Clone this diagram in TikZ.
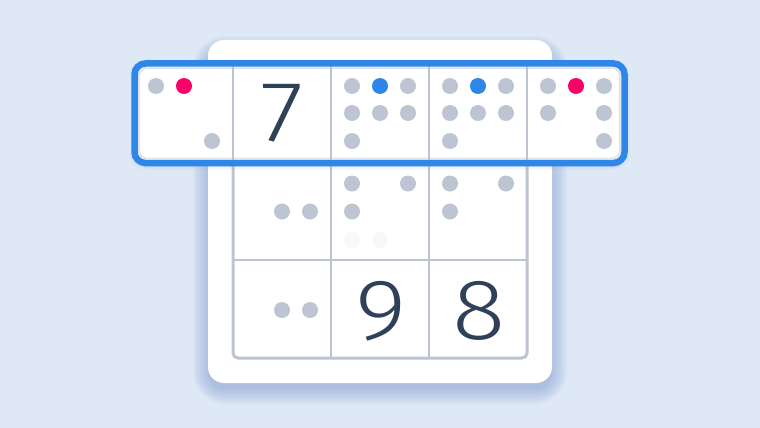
\documentclass[tikz,border=0pt]{standalone}
\usepackage{fontspec}
\usepackage{graphicx}
\newfontfamily\numfont{Fira Sans Light}
\definecolor{bg}{HTML}{DFE9F6}
\definecolor{gridc}{HTML}{BCC4D2}
\definecolor{dotc}{HTML}{BEC5D2}
\definecolor{faint}{HTML}{F7F8FA}
\definecolor{pinkc}{HTML}{FA0068}
\definecolor{bluec}{HTML}{2E86E8}
\definecolor{digitc}{HTML}{2F4059}
\definecolor{shadowc}{HTML}{95AEDB}
\newcommand{\widedigit}[1]{\scalebox{1.15}[1]{#1}}
\tikzset{
  dot/.style={circle, fill=dotc, minimum size=16pt, inner sep=0pt},
  pdot/.style={dot, fill=pinkc},
  bdot/.style={dot, fill=bluec},
  fdot/.style={dot, fill=faint},
  digit/.style={inner sep=0pt, text=digitc, font=\fontsize{86}{86}\selectfont\numfont},
  gridline/.style={draw=gridc, line width=2pt},
}
\begin{document}
\begin{tikzpicture}[x=1pt,y=-1pt]
\fill[bg] (0,0) rectangle (760,428);
\useasboundingbox (0,0) rectangle (760,428);
% card shadow
\foreach \i in {0,...,16}{
  \fill[shadowc, opacity=0.055, rounded corners={16+\i}]
    (209-\i,52-\i) rectangle (551+\i,388+\i);
}
% card
\fill[white, rounded corners=16pt] (208,40) rectangle (552,383);
% grid
\draw[gridline, line width=3pt, rounded corners=5pt] (233,63) rectangle (527,358);
\draw[gridline] (331,63) -- (331,358);
\draw[gridline] (429,63) -- (429,358);
\draw[gridline] (233,161) -- (527,161);
\draw[gridline] (233,260) -- (527,260);
% highlight row
\foreach \i in {1,...,5}{
  \fill[shadowc, opacity=0.05, rounded corners={11+\i}]
    (134.5-\i,64.5-\i) rectangle (624.5+\i,165+\i);
}
\fill[white, rounded corners=11pt] (134.5,63.5) rectangle (624.5,163);
\draw[draw=gridc!45, line width=2pt, rounded corners=8pt] (139,68) rectangle (620,158.5);
\foreach \x in {233,331,429,527} \draw[gridline] (\x,66.5) -- (\x,160);
\draw[draw=bluec, line width=6.5pt, rounded corners=11pt] (134.5,63.5) rectangle (624.5,163);
% dots, highlighted row
\node[dot]  (a1) at (156,86) {};
\node[pdot] (a2) at (184,86) {};
\node[dot]  (a3) at (212,141) {};
\node[digit] (n7) at (282,113.5) {\widedigit{7}};
\node[dot]  (b1) at (352,86) {};
\node[bdot] (b2) at (380,86) {};
\node[dot]  (b3) at (408,86) {};
\node[dot]  (b4) at (352,113) {};
\node[dot]  (b5) at (380,113) {};
\node[dot]  (b6) at (408,113) {};
\node[dot]  (b7) at (352,141) {};
\node[dot]  (c1) at (450,86) {};
\node[bdot] (c2) at (478,86) {};
\node[dot]  (c3) at (506,86) {};
\node[dot]  (c4) at (450,113) {};
\node[dot]  (c5) at (478,113) {};
\node[dot]  (c6) at (506,113) {};
\node[dot]  (c7) at (450,141) {};
\node[dot]  (e1) at (548,86) {};
\node[pdot] (e2) at (576,86) {};
\node[dot]  (e3) at (604,86) {};
\node[dot]  (e4) at (548,113) {};
\node[dot]  (e5) at (604,113) {};
\node[dot]  (e6) at (604,141) {};
% second row
\node[dot]  (f1) at (282,211.5) {};
\node[dot]  (f2) at (310,211.5) {};
\node[dot]  (g1) at (352,183.5) {};
\node[dot]  (g2) at (408,183.5) {};
\node[dot]  (g3) at (352,211.5) {};
\node[fdot] (g4) at (352,240) {};
\node[fdot] (g5) at (380,240) {};
\node[dot]  (h1) at (450,183.5) {};
\node[dot]  (h2) at (506,183.5) {};
\node[dot]  (h3) at (450,211.5) {};
% third row
\node[dot]  (i1) at (282,310) {};
\node[dot]  (i2) at (310,310) {};
\node[digit] (n9) at (381,311) {\widedigit{9}};
\node[digit] (n8) at (479,311) {\widedigit{8}};
\end{tikzpicture}
\end{document}
